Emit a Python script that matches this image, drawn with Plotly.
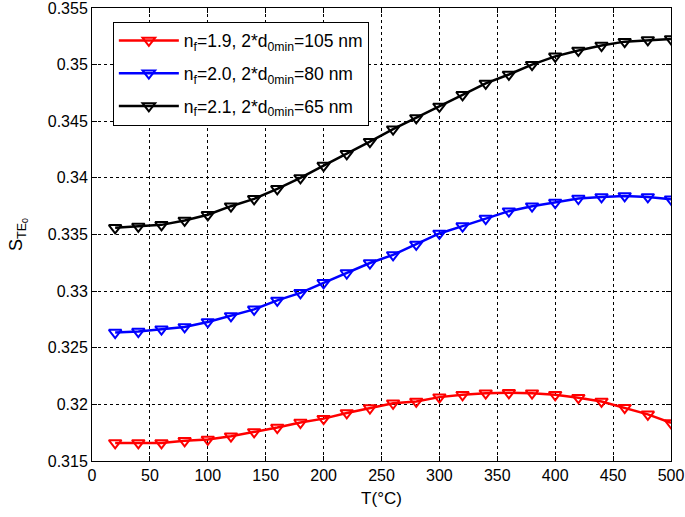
import plotly.graph_objects as go

T = list(range(20, 501, 20))

s_nf19 = [0.3166, 0.3166, 0.3166, 0.31678, 0.3169, 0.31719, 0.31757, 0.31795, 0.3184, 0.31874,
          0.31924, 0.31968, 0.3201, 0.32026, 0.32064, 0.32085, 0.32099, 0.32102, 0.32099, 0.32085,
          0.32059, 0.32026, 0.31971, 0.31912, 0.31836]
s_nf20 = [0.32634, 0.32643, 0.32664, 0.32684, 0.32728, 0.32781, 0.32839, 0.32918, 0.32985, 0.33073,
          0.3316, 0.33248, 0.3332, 0.33412, 0.33509, 0.33574, 0.33641, 0.33706, 0.3375, 0.33782,
          0.33818, 0.33832, 0.33841, 0.33832, 0.33812]
s_nf21 = [0.33559, 0.33571, 0.33585, 0.33624, 0.33674, 0.3375, 0.33815, 0.33903, 0.34, 0.34109,
          0.34212, 0.3432, 0.3443, 0.34529, 0.34631, 0.34733, 0.34834, 0.34913, 0.35, 0.35073,
          0.35125, 0.35169, 0.35203, 0.35218, 0.35227]

names = ["n<sub>f</sub>=1.9, 2*d<sub>0min</sub>=105 nm",
         "n<sub>f</sub>=2.0, 2*d<sub>0min</sub>=80 nm",
         "n<sub>f</sub>=2.1, 2*d<sub>0min</sub>=65 nm"]
colors = ["#ff0000", "#0000ff", "#000000"]
series = [s_nf19, s_nf20, s_nf21]

xticks = list(range(0, 501, 50))
yticks = [0.315, 0.32, 0.325, 0.33, 0.335, 0.34, 0.345, 0.35, 0.355]
ytick_text = ["0.315", "0.32", "0.325", "0.33", "0.335", "0.34", "0.345", "0.35", "0.355"]

fig = go.Figure()
for i, (name, col, ys) in enumerate(zip(names, colors, series)):
    fig.add_trace(go.Scatter(
        x=T, y=ys, name=name, mode="lines+markers",
        line=dict(color=col, width=2.5),
        marker=dict(symbol="triangle-down-open", size=11, color=col, line=dict(width=2, color=col)),
        legendgroup=f"g{i}",
    ))

font = "Liberation Sans, Arial, sans-serif"
axis_common = dict(
    showline=True, linecolor="black", linewidth=1, mirror="ticks",
    ticks="inside", ticklen=5, tickcolor="black",
    showgrid=True, gridcolor="black", gridwidth=1, griddash="3px,3px",
    zeroline=False, tickfont=dict(size=16, color="black", family=font),
    ticklabeloverflow="allow", automargin=False,
)

fig.update_layout(
    width=685, height=517,
    margin=dict(l=92, r=14, t=8, b=56),
    paper_bgcolor="white", plot_bgcolor="white",
    font=dict(family=font, color="black", size=16),
    xaxis=dict(range=[0, 500], tickvals=xticks, title=dict(text="T(°C)", font=dict(size=17), standoff=8), **axis_common),
    yaxis=dict(range=[0.3149999, 0.3550001], tickvals=yticks, ticktext=ytick_text,
               title=dict(text="S<sub>TE<sub>0</sub></sub>", font=dict(size=18), standoff=20), **axis_common),
    legend=dict(x=0.036, y=0.97, xanchor="left", yanchor="top",
                bgcolor="white", bordercolor="black", borderwidth=1,
                font=dict(size=17.5, color="black", family=font), tracegroupgap=7,
                itemwidth=60),
    showlegend=True,
)

fig.write_html("out.html", config={"displayModeBar": False},
               post_script="document.body.style.margin='0';document.body.style.overflow='hidden';")
